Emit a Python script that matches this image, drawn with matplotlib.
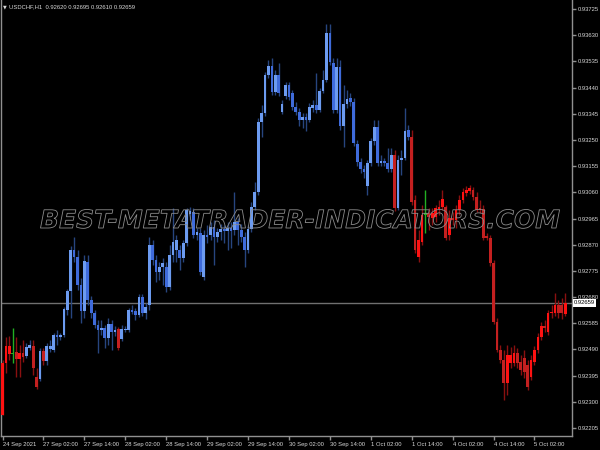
import numpy as np
import matplotlib
matplotlib.use("Agg")
import matplotlib.pyplot as plt
import matplotlib.patheffects as pe

# ---------------------------------------------------------------------------
# Data: USDCHF H1 candles, prices in points (1e-5)
# ---------------------------------------------------------------------------
SYMBOL = "USDCHF,H1"

open_pts = [
    92253, 92441, 92474, 92474, 92482, 92456, 92478, 92467, 92496, 92503,
    92391, 92384, 92485, 92449, 92492, 92489, 92543, 92536, 92543, 92634,
    92703, 92851, 92826, 92724, 92630, 92808, 92670, 92623, 92579, 92561,
    92568, 92532, 92583, 92554, 92565, 92529, 92561, 92561, 92634, 92630,
    92616, 92681, 92623, 92652, 92869, 92815, 92771, 92790, 92790, 92717,
    92833, 92851, 92851, 92822, 92877, 92982, 92989, 92906, 92913, 92753,
    92906, 92906, 92935, 92898, 92917, 92927, 92920, 92931, 92924, 92953,
    92924, 92898, 92851, 92927, 93007, 93062, 93316, 93348, 93486, 93519,
    93424, 93486, 93352, 93410, 93450, 93421, 93370, 93352, 93323, 93334,
    93323, 93366, 93377, 93359, 93428, 93468, 93638, 93530, 93359, 93515,
    93301, 93381, 93403, 93388, 93236, 93170, 93145, 93083, 93167, 93247,
    93297, 93167, 93174, 93167, 93145, 93196, 93004, 93178, 93185, 93287,
    93261, 93033, 92826, 92880, 92978, 92985, 92967, 92971, 93000, 93007,
    93007, 92906, 92967, 92960, 92996, 93033, 93058, 93065, 93069, 93043,
    93004, 93000, 92902, 92895, 92804, 92590, 92489, 92452, 92369, 92441,
    92441, 92478, 92445, 92459, 92434, 92391, 92445, 92489, 92536, 92576,
    92554, 92623, 92623, 92652, 92652, 92620,
]
high_pts = [
    92452, 92536, 92539, 92568, 92536, 92507, 92525, 92514, 92525, 92525,
    92423, 92496, 92496, 92514, 92525, 92550, 92561, 92550, 92645, 92710,
    92866, 92898, 92851, 92750, 92833, 92833, 92685, 92634, 92597, 92597,
    92579, 92605, 92597, 92576, 92572, 92579, 92576, 92641, 92652, 92641,
    92692, 92692, 92659, 92898, 92887, 92833, 92808, 92822, 92808, 92869,
    93004, 92906, 92869, 92887, 93004, 93007, 93004, 92931, 92931, 92924,
    92942, 92953, 92960, 92931, 92946, 92942, 92953, 92953, 93062, 92967,
    92946, 92917, 92942, 93025, 93098, 93330, 93377, 93497, 93540, 93548,
    93504, 93530, 93395, 93461, 93461, 93432, 93388, 93366, 93348, 93348,
    93384, 93395, 93493, 93439, 93504, 93671, 93671, 93548, 93548, 93540,
    93450, 93432, 93421, 93403, 93250, 93185, 93160, 93178, 93257, 93323,
    93323, 93196, 93185, 93221, 93221, 93214, 93196, 93214, 93366, 93305,
    93287, 93051, 92924, 93014, 93069, 93004, 93004, 93014, 93033, 93069,
    93014, 92996, 92989, 93014, 93051, 93076, 93083, 93087, 93080, 93062,
    93033, 93014, 92913, 92906, 92815, 92605, 92507, 92489, 92507, 92500,
    92507, 92496, 92470, 92489, 92452, 92470, 92503, 92550, 92590, 92597,
    92634, 92652, 92696, 92670, 92677, 92695,
]
low_pts = [
    92253, 92405, 92452, 92441, 92391, 92391, 92445, 92459, 92489, 92398,
    92347, 92376, 92434, 92434, 92482, 92482, 92507, 92525, 92536, 92616,
    92605, 92808, 92706, 92587, 92605, 92652, 92605, 92568, 92478, 92543,
    92496, 92507, 92489, 92539, 92489, 92521, 92554, 92554, 92619, 92597,
    92608, 92612, 92601, 92634, 92797, 92735, 92742, 92724, 92699, 92706,
    92808, 92808, 92779, 92808, 92866, 92960, 92895, 92887, 92761, 92742,
    92877, 92887, 92797, 92880, 92887, 92877, 92851, 92858, 92906, 92869,
    92880, 92790, 92840, 92917, 92996, 93051, 93261, 93337, 93475, 93413,
    93413, 93410, 93345, 93399, 93395, 93359, 93341, 93301, 93294, 93283,
    93316, 93352, 93348, 93352, 93421, 93461, 93522, 93348, 93348, 93287,
    93225, 93366, 93374, 93228, 93156, 93130, 93112, 93051, 93156, 93232,
    93156, 93156, 93156, 93134, 93134, 92993, 92996, 93123, 93178, 93250,
    93014, 92840, 92808, 92869, 92913, 92924, 92942, 92953, 92978, 92996,
    92887, 92887, 92942, 92931, 92978, 93022, 93047, 93054, 93033, 92989,
    92985, 92887, 92887, 92793, 92583, 92482, 92441, 92307, 92325, 92423,
    92430, 92423, 92398, 92387, 92343, 92380, 92434, 92478, 92525, 92554,
    92543, 92605, 92612, 92605, 92601, 92610,
]
close_pts = [
    92441, 92503, 92503, 92478, 92456, 92478, 92463, 92500, 92507, 92423,
    92355, 92485, 92449, 92503, 92503, 92543, 92536, 92543, 92638, 92703,
    92851, 92826, 92724, 92630, 92811, 92670, 92623, 92579, 92561, 92568,
    92532, 92583, 92554, 92561, 92496, 92565, 92565, 92634, 92626, 92616,
    92681, 92623, 92645, 92869, 92815, 92771, 92790, 92804, 92717, 92833,
    92880, 92887, 92822, 92877, 92996, 92993, 92906, 92917, 92771, 92906,
    92898, 92935, 92898, 92917, 92927, 92920, 92931, 92920, 92953, 92924,
    92898, 92851, 92927, 93007, 93062, 93316, 93348, 93486, 93519, 93424,
    93486, 93421, 93381, 93450, 93406, 93370, 93352, 93323, 93334, 93323,
    93370, 93377, 93359, 93428, 93468, 93638, 93533, 93359, 93515, 93301,
    93381, 93399, 93388, 93239, 93170, 93145, 93134, 93167, 93247, 93297,
    93167, 93174, 93167, 93145, 93196, 93004, 93178, 93185, 93283, 93261,
    93025, 92851, 92887, 92978, 92985, 92971, 92985, 93004, 93007, 93036,
    92895, 92967, 92960, 92996, 93033, 93062, 93069, 93076, 93043, 92996,
    92996, 92895, 92895, 92804, 92590, 92489, 92452, 92369, 92470, 92470,
    92478, 92441, 92416, 92409, 92355, 92452, 92489, 92536, 92576, 92568,
    92623, 92626, 92652, 92623, 92623, 92659,
]
# trend colour of each bar from the indicator: b = blue, r = red, g = green
trend = ("rrrgrrrbbrrbr" + "b" * 21 + "r" + "b" * 80 + "r" + "bbbb"
         + "rrrr" + "g" + "r" * 41)

x_label_bars = [0, 12, 24, 36, 48, 60, 72, 84, 96, 108, 120, 132, 144, 156]
x_labels = ["24 Sep 2021", "27 Sep 02:00", "27 Sep 14:00", "28 Sep 02:00",
            "28 Sep 14:00", "29 Sep 02:00", "29 Sep 14:00", "30 Sep 02:00",
            "30 Sep 14:00", "1 Oct 02:00", "1 Oct 14:00", "4 Oct 02:00",
            "4 Oct 14:00", "5 Oct 02:00"]
y_ticks = [0.93725, 0.93630, 0.93535, 0.93440, 0.93345, 0.93250, 0.93155,
           0.93060, 0.92965, 0.92870, 0.92775, 0.92680, 0.92585, 0.92490,
           0.92395, 0.92300, 0.92205]

# ---------------------------------------------------------------------------
o = np.array(open_pts) / 1e5
h = np.array(high_pts) / 1e5
l = np.array(low_pts) / 1e5
c = np.array(close_pts) / 1e5
idx = np.arange(len(o))
bull = c >= o
last_price = c[-1]

BODY = {("b", True): "#6c9bf0", ("b", False): "#3f6bdb",
        ("r", True): "#ff1212", ("r", False): "#c42020",
        ("g", True): "#22b022", ("g", False): "#22b022"}
WICK = {"b": "#27457f", "r": "#8a1010", "g": "#22b022"}
body_colors = [BODY[(t, bool(b))] for t, b in zip(trend, bull)]
wick_colors = [WICK[t] for t in trend]

FONT = ["Liberation Sans", "DejaVu Sans"]
FS = 4.2
TXT = "#d8d8d8"
GRID = "#909090"

fig = plt.figure(figsize=(6, 4.5), dpi=100, facecolor="black")
ax = fig.add_axes([1 / 600, 14 / 450, 571 / 600, 436 / 450])
ax.set_facecolor("black")

ax.axhline(last_price, color="#707070", lw=1, zorder=1)
ax.vlines(idx, l, h, colors=wick_colors, lw=1, zorder=2)
ax.bar(idx, np.maximum(np.abs(c - o), 1.5e-5), bottom=np.minimum(o, c),
       width=0.8, color=body_colors, linewidth=0, zorder=3)

ax.set_xlim(-0.44, 167.0)
ax.set_ylim(0.92176, 0.93758)

for s in ("left", "bottom", "right"):
    ax.spines[s].set_color(GRID)
    ax.spines[s].set_linewidth(1)
ax.spines["top"].set_visible(False)

ax.yaxis.tick_right()
ax.set_yticks(y_ticks)
ax.set_yticklabels([f"{v:.5f}" for v in y_ticks], family=FONT, fontsize=FS,
                   color=TXT)
ax.tick_params(axis="y", length=3, width=1, color=GRID, pad=1.5)

ax.set_xticks(x_label_bars)
ax.set_xticklabels(x_labels, family=FONT, fontsize=FS, color=TXT, ha="left")
ax.tick_params(axis="x", length=3, width=1, color=GRID, pad=1.5)

# current price tag on the right axis
ax.text(1.003, last_price, f"{last_price:.5f}", transform=ax.get_yaxis_transform(),
        ha="left", va="center", family=FONT, fontsize=FS, color="black",
        bbox=dict(boxstyle="square,pad=0.2", fc="white", ec="none"),
        zorder=10, clip_on=False)

# header: symbol + OHLC of the last bar
fig.text(3 / 600, 1 - 7 / 450, "▼", family="DejaVu Sans", fontsize=3.5,
         color=TXT, va="center")
fig.text(9 / 600, 1 - 7 / 450,
         f"{SYMBOL}  {o[-1]:.5f} {h[-1]:.5f} {l[-1]:.5f} {c[-1]:.5f}",
         family=FONT, fontsize=FS, color=TXT, va="center")

# hollow watermark
fig.text(0.5, 1 - 221 / 450, "BEST-METATRADER-INDICATORS.COM",
         family="DejaVu Sans", fontsize=18, weight="bold", style="italic",
         color=(0, 0, 0, 0), ha="center", va="center", zorder=20,
         path_effects=[pe.Stroke(linewidth=0.6, foreground="#8c8c8c")])

fig.savefig("out.png", dpi=100, facecolor="black")
